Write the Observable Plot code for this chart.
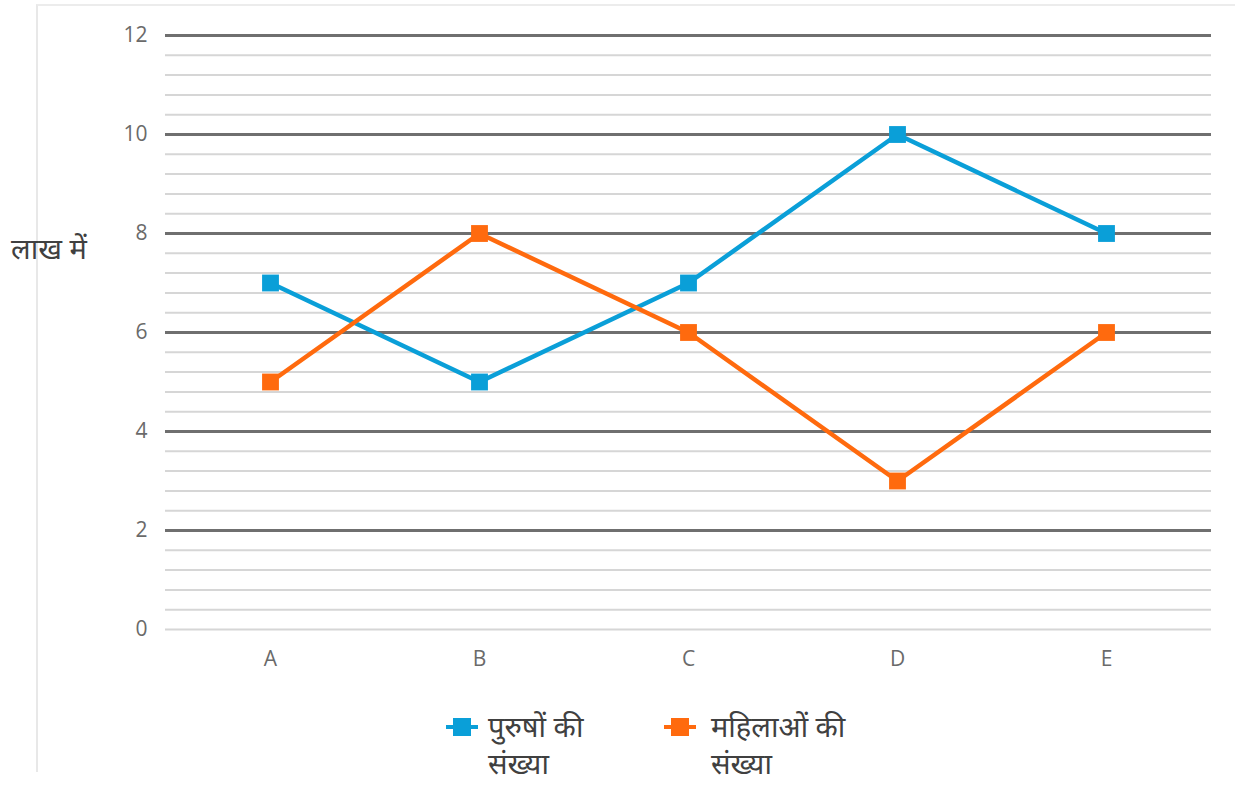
<!DOCTYPE html>
<html>
<head>
<meta charset="utf-8">
<script src="https://cdn.jsdelivr.net/npm/d3@7"></script>
<script src="https://cdn.jsdelivr.net/npm/@observablehq/plot@0.6"></script>
<style>
  html, body { margin: 0; padding: 0; background: #fff; }
  body { width: 1235px; height: 789px; position: relative; overflow: hidden;
         font-family: "Open Sans", "Noto Sans", sans-serif; }
  #frame { position: absolute; left: 36px; top: 4px; width: 1240px; height: 768px;
           border-left: 2px solid #e8e8e8; border-top: 2px solid #ececec; box-sizing: border-box; }
  #chart { position: absolute; left: 0; top: 0; }
  #chart svg text { font-size: 21px !important; }
  #ylabel { position: absolute; left: 11px; top: 228px; font-size: 29px; color: #404040; white-space: nowrap; }
  .leg { position: absolute; font-size: 29px; color: #404040; line-height: 37px; }
  .sw { position: absolute; }
</style>
</head>
<body>
<div id="frame"></div>
<div id="chart"></div>
<div id="ylabel">लाख में</div>
<div id="legend"></div>
<script>
const categories = ["A", "B", "C", "D", "E"];
const men = [7, 5, 7, 10, 8];
const women = [5, 8, 6, 3, 6];
const seriesNames = ["पुरुषों की संख्या", "महिलाओं की संख्या"];
const colors = ["#0a9fd8", "#ff6a0e"];
const yTicks = [0, 2, 4, 6, 8, 10, 12];
const majorGrid = [2, 4, 6, 8, 10, 12];
const minorGrid = [0, 0.4, 0.8, 1.2, 1.6, 2.4, 2.8, 3.2, 3.6, 4.4, 4.8, 5.2, 5.6,
                   6.4, 6.8, 7.2, 7.6, 8.4, 8.8, 9.2, 9.6, 10.4, 10.8, 11.2, 11.6];

const data = [
  ...categories.map((c, i) => ({cat: c, value: men[i], series: seriesNames[0]})),
  ...categories.map((c, i) => ({cat: c, value: women[i], series: seriesNames[1]}))
];

const chart = Plot.plot({
  width: 1235,
  height: 700,
  marginLeft: 165,
  marginRight: 24,
  marginTop: 35,
  marginBottom: 71,
  style: {fontFamily: "'Open Sans', 'Noto Sans', sans-serif", fontSize: "21px", color: "#595959", background: "transparent"},
  x: {type: "point", domain: categories, padding: 0.5, label: null},
  y: {domain: [0, 12], label: null},
  color: {domain: seriesNames, range: colors},
  marks: [
    Plot.ruleY(minorGrid, {stroke: "#d6d6d6", strokeWidth: 2}),
    Plot.ruleY(majorGrid, {stroke: "#6f6f6f", strokeWidth: 3}),
    Plot.axisY({ticks: yTicks, tickSize: 0, tickPadding: 18, label: null, fill: "#6a6a6a", fontSize: 21}),
    Plot.axisX({tickSize: 0, tickPadding: 22, label: null, fill: "#6a6a6a", fontSize: 21}),
    Plot.line(data, {x: "cat", y: "value", z: "series", stroke: "series", strokeWidth: 4.5}),
    Plot.dot(data, {x: "cat", y: "value", fill: "series", symbol: "square", r: 9.5, stroke: null})
  ]
});
document.getElementById("chart").appendChild(chart);

// legend
const legend = document.getElementById("legend");
const legPos = [{sx: 446, tx: 488, w: 120}, {sx: 664, tx: 711, w: 165}];
seriesNames.forEach((name, i) => {
  const p = legPos[i];
  const sw = document.createElement("div");
  sw.className = "sw";
  sw.style.left = p.sx + "px";
  sw.style.top = "717px";
  sw.innerHTML = `<svg width="32" height="20"><line x1="0" y1="10" x2="32" y2="10" stroke="${colors[i]}" stroke-width="4"/><rect x="7" y="1" width="18" height="18" fill="${colors[i]}"/></svg>`;
  legend.appendChild(sw);
  const t = document.createElement("div");
  t.className = "leg";
  t.style.left = p.tx + "px";
  t.style.top = "707px";
  t.style.width = p.w + "px";
  t.textContent = name;
  legend.appendChild(t);
});
</script>
</body>
</html>
